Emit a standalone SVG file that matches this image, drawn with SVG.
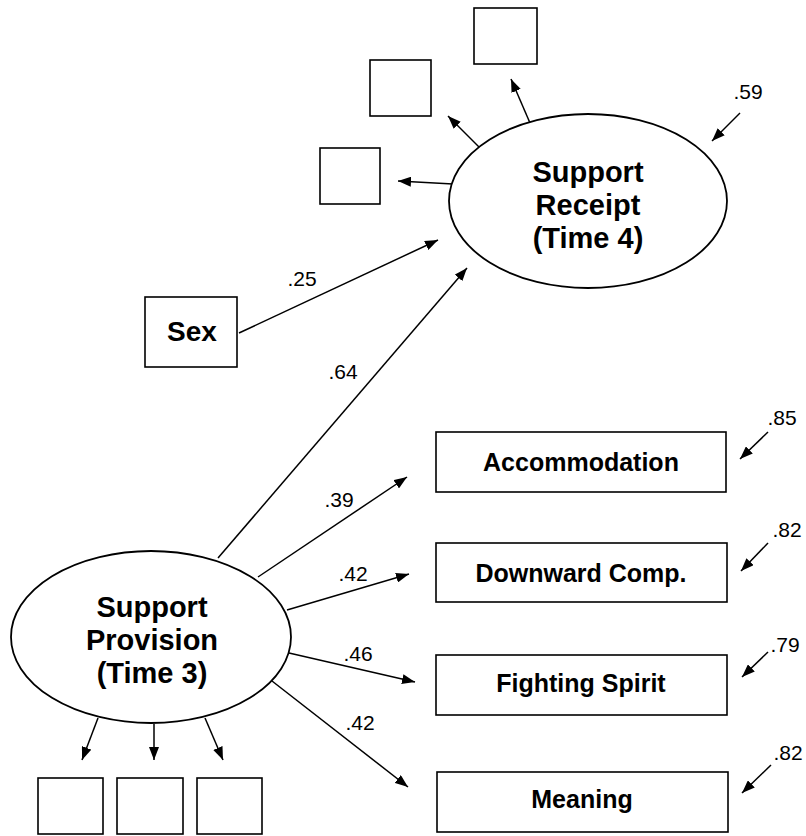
<svg xmlns="http://www.w3.org/2000/svg" width="806" height="836" viewBox="0 0 806 836">
<style>
.box{fill:#fff;stroke:#000;stroke-width:1.6}
.lat{fill:#fff;stroke:#000;stroke-width:1.8}
.lbl{font-family:"Liberation Sans",Arial,sans-serif;font-weight:bold;fill:#000;text-anchor:middle}
.num{font-family:"Liberation Sans",Arial,sans-serif;font-size:21px;fill:#000;text-anchor:middle}
.arr{stroke:#000;stroke-width:1.5;fill:none;marker-end:url(#ah)}
</style>
<defs>
<marker id="ah" markerUnits="userSpaceOnUse" markerWidth="14" markerHeight="10" refX="13" refY="5" orient="auto">
<path d="M0,0 L13,5 L0,10 Z" fill="#000"/>
</marker>
</defs>
<rect width="806" height="836" fill="#fff"/>
<g id="connectors">
<line class="arr" x1="530" y1="123" x2="511" y2="79"/>
<line class="arr" x1="479" y1="147" x2="448" y2="116"/>
<line class="arr" x1="453" y1="184" x2="398" y2="181"/>
<line class="arr" x1="740" y1="113" x2="712" y2="141"/>
<line class="arr" x1="239" y1="333" x2="438" y2="240"/>
<line class="arr" x1="218" y1="558" x2="467" y2="268"/>
<line class="arr" x1="258" y1="577" x2="407" y2="477"/>
<line class="arr" x1="287" y1="610" x2="409" y2="574"/>
<line class="arr" x1="289" y1="653" x2="415" y2="682"/>
<line class="arr" x1="272" y1="681" x2="408" y2="787"/>
<line class="arr" x1="98" y1="718" x2="82" y2="760"/>
<line class="arr" x1="154" y1="724" x2="154" y2="760"/>
<line class="arr" x1="205" y1="718" x2="223" y2="760"/>
<line class="arr" x1="768" y1="432" x2="740" y2="459"/>
<line class="arr" x1="768" y1="543" x2="741" y2="571"/>
<line class="arr" x1="768" y1="652" x2="742" y2="677"/>
<line class="arr" x1="771" y1="765" x2="742" y2="793"/>
<text class="num" x="748" y="99">.59</text>
<text class="num" x="302" y="286">.25</text>
<text class="num" x="343" y="379">.64</text>
<text class="num" x="339" y="507">.39</text>
<text class="num" x="353" y="581">.42</text>
<text class="num" x="358" y="661">.46</text>
<text class="num" x="360" y="730">.42</text>
<text class="num" x="782" y="425">.85</text>
<text class="num" x="787" y="537">.82</text>
<text class="num" x="785" y="652">.79</text>
<text class="num" x="788" y="760">.82</text>
</g>
<g id="receipt_ind1"><rect class="box" x="474" y="8" width="63" height="56"/></g>
<g id="receipt_ind2"><rect class="box" x="370" y="60" width="61" height="56"/></g>
<g id="receipt_ind3"><rect class="box" x="320" y="148" width="60" height="56"/></g>
<g id="support_receipt">
<ellipse class="lat" cx="588" cy="201" rx="139" ry="87"/>
<text class="lbl" font-size="29" x="588" y="182">Support</text>
<text class="lbl" font-size="29" x="588" y="215">Receipt</text>
<text class="lbl" font-size="29" x="588" y="248">(Time 4)</text>
</g>
<g id="sex">
<rect class="box" x="145" y="297" width="92" height="70"/>
<text class="lbl" font-size="28" x="192" y="341">Sex</text>
</g>
<g id="support_provision">
<ellipse class="lat" cx="151" cy="637" rx="140" ry="86"/>
<text class="lbl" font-size="29" x="152" y="617">Support</text>
<text class="lbl" font-size="29" x="152" y="650">Provision</text>
<text class="lbl" font-size="29" x="152" y="683">(Time 3)</text>
</g>
<g id="prov_ind1"><rect class="box" x="38" y="778" width="65" height="56"/></g>
<g id="prov_ind2"><rect class="box" x="117" y="778" width="66" height="56"/></g>
<g id="prov_ind3"><rect class="box" x="197" y="778" width="65" height="56"/></g>
<g id="accommodation">
<rect class="box" x="436" y="432" width="290" height="60"/>
<text class="lbl" font-size="25" x="581" y="471">Accommodation</text>
</g>
<g id="downward_comp">
<rect class="box" x="436" y="543" width="291" height="59"/>
<text class="lbl" font-size="25" x="581" y="582">Downward Comp.</text>
</g>
<g id="fighting_spirit">
<rect class="box" x="436" y="655" width="291" height="60"/>
<text class="lbl" font-size="25" x="581" y="692">Fighting Spirit</text>
</g>
<g id="meaning">
<rect class="box" x="437" y="772" width="291" height="60"/>
<text class="lbl" font-size="25" x="582" y="808">Meaning</text>
</g>
</svg>
